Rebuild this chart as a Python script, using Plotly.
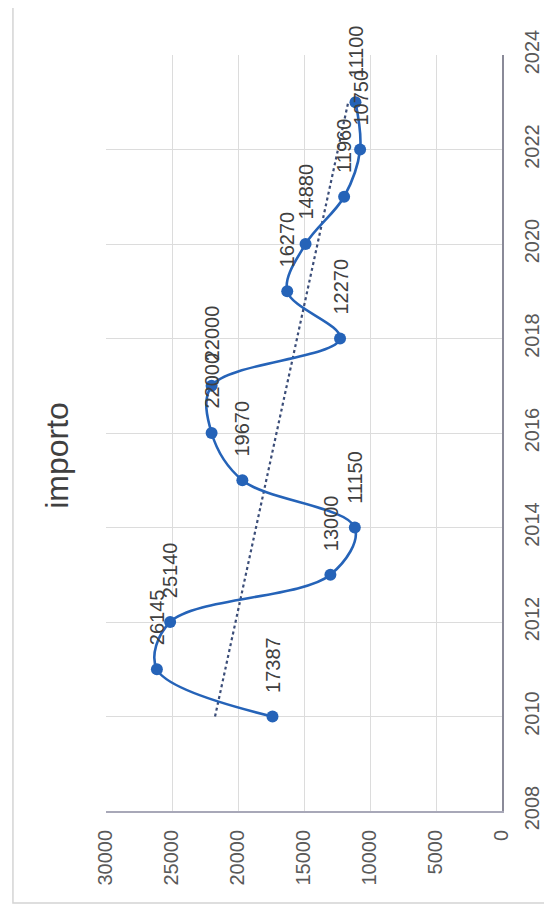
import numpy as np
import plotly.graph_objects as go

years = [2010, 2011, 2012, 2013, 2014, 2015, 2016, 2017, 2018, 2019, 2020, 2021, 2022, 2023]
importo = [17387, 26145, 25140, 13000, 11150, 19670, 22000, 22000, 12270, 16270, 14880, 11960, 10750, 11100]
labels = [str(v) for v in importo]
year_ticks = list(range(2008, 2025, 2))
value_ticks = list(range(0, 30001, 5000))
title_text = "importo"

# linear trendline computed from the data
coef = np.polyfit(years, importo, 1)
trend_years = [years[0], years[-1]]
trend_vals = [float(np.polyval(coef, y)) for y in trend_years]

LINE = "#2563b8"
TXT = "#404040"
FONT = "Liberation Sans"

fig = go.Figure()
fig.add_trace(go.Scatter(
    x=trend_vals, y=trend_years, mode="lines",
    line=dict(color="#3b4d78", width=2.2, dash="dot"),
    hoverinfo="skip", showlegend=False))
fig.add_trace(go.Scatter(
    x=importo, y=years, mode="lines+markers",
    line=dict(color=LINE, width=2.6, shape="spline", smoothing=1.0),
    marker=dict(color=LINE, size=12),
    showlegend=False))

for v, yr, t in zip(importo, years, labels):
    fig.add_annotation(x=v, y=yr, xref="x", yref="y", text=t, textangle=-90,
                       showarrow=False, xanchor="center", yanchor="bottom", yshift=22,
                       font=dict(family=FONT, size=20, color=TXT))

fig.add_annotation(x=-0.124, y=0.471, xref="paper", yref="paper", text=title_text,
                   textangle=-90, showarrow=False, xanchor="center", yanchor="middle",
                   font=dict(family=FONT, size=32, color="#404040"))

fig.add_shape(type="rect", xref="paper", yref="paper",
              x0=-0.235, x1=1.112, y0=-0.1217, y1=1.0675,
              line=dict(color="#d4d4d4", width=1.5), layer="below")

fig.update_layout(
    width=544, height=903,
    margin=dict(l=98, r=50, t=47, b=100),
    paper_bgcolor="white", plot_bgcolor="white",
    font=dict(family=FONT, size=20, color="#595959"),
    xaxis=dict(range=[30000, 0], tickvals=value_ticks, ticktext=[str(v) for v in value_ticks],
               tickangle=-90, showgrid=True, gridcolor="#dcdcdc", gridwidth=1.3,
               showline=True, linecolor="#a8a8b8", linewidth=1.8, zeroline=False,
               ticks="", ticklabelstandoff=9, side="bottom", automargin=False),
    yaxis=dict(range=[2008, 2024], tickvals=year_ticks, ticktext=[str(v) for v in year_ticks],
               tickangle=-90, showgrid=True, gridcolor="#dcdcdc", gridwidth=1.3,
               showline=True, linecolor="#8a8a98", linewidth=1.8, zeroline=False,
               ticks="", ticklabelstandoff=11, side="right", automargin=False),
)

fig.write_html("out.html")
